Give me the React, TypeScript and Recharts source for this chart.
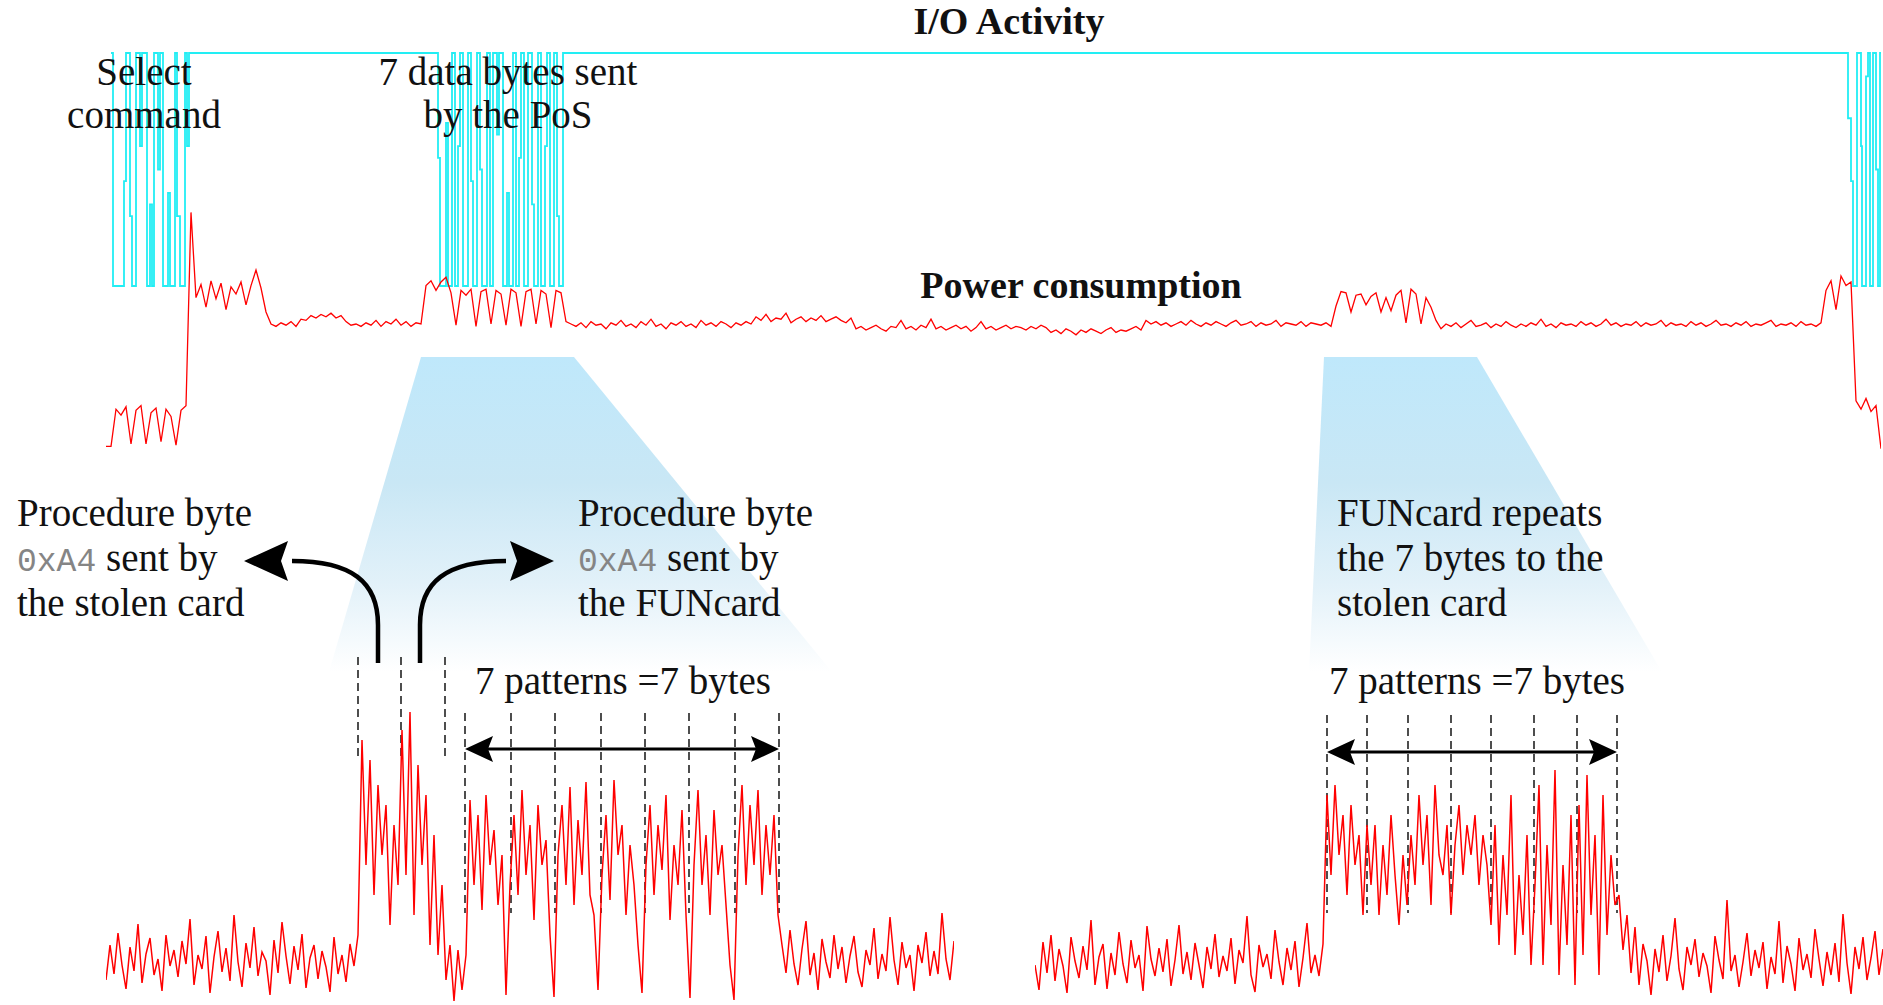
import { LineChart, Line, XAxis, YAxis, ReferenceLine } from "recharts"

// top trace: power consumption, one sample per step (arbitrary units)
const powerLow = [0.8, 0.8, 3.9, 3.4, 4.1, 1.0, 3.8, 4.2, 1.0, 3.6, 4.0, 1.2, 3.9, 3.3, 0.9, 3.8, 4.2]
const powerSelect = [20.3, 13.2, 14.3, 12.4, 14.6, 13.1, 14.4, 12.2, 14.1, 13.5, 14.5, 12.6, 14.2, 15.5, 14.0, 12.0, 11.0]
const powerIdle1 = [
  10.8, 11.1, 10.9, 11.2, 10.8, 11.4, 11.3, 11.7, 11.5, 11.8, 11.6, 11.9, 11.5, 11.7, 11.2,
  10.9, 11.0, 10.8, 11.1, 10.9, 11.3, 10.8, 11.2, 11.0, 11.4, 10.9, 11.2, 10.8, 11.1, 11.0,
]
const powerPos = [
  14.2, 14.6, 13.8, 14.5, 14.9, 13.6, 10.9, 13.8, 13.4, 13.9, 10.8, 13.7, 13.9, 11.0, 13.8,
  13.5, 10.9, 13.9, 13.6, 10.8, 13.7, 13.9, 11.0, 13.8, 13.5, 10.7, 13.8, 13.6, 11.2,
]
const powerIdle2 = [
  11.0, 10.8, 11.1, 10.7, 11.2, 10.9, 11.0, 10.6, 11.1, 10.9, 11.3, 10.8, 11.0, 10.7, 11.2, 10.9, 11.4, 10.8, 11.0, 10.6,
  11.1, 10.9, 11.2, 10.8, 11.0, 10.7, 11.3, 10.9, 11.1, 10.8, 11.2, 11.0, 10.7, 11.1, 10.9, 11.2, 11.0,
  11.6, 11.3, 11.8, 11.2, 11.5, 11.4, 11.9, 11.1, 11.4, 11.6, 11.2, 11.5, 11.3, 11.7, 11.2, 11.4, 11.6, 11.3, 11.1, 11.5,
  10.6, 10.8, 10.5, 10.7, 10.9, 10.6, 10.4, 10.8, 10.7, 11.3, 10.6, 10.8, 10.5, 10.9, 10.7, 11.4, 10.6, 10.8, 10.5, 10.7,
  10.9, 10.6, 10.8, 10.4, 10.7, 11.2, 10.6, 10.8, 10.5, 10.7, 10.9, 10.6, 10.8, 10.7, 10.5, 10.8, 10.6, 10.9, 10.7,
  10.3, 10.5, 10.2, 10.6, 10.4, 10.1, 10.5, 10.3, 10.6, 10.4, 10.2, 10.5, 10.7, 10.3, 10.5, 10.4, 10.6, 10.8, 10.5,
  11.3, 11.0, 11.2, 10.9, 11.1, 10.8, 11.0, 11.2, 10.9, 11.3, 11.0, 10.8, 11.1, 10.9, 11.2, 11.0, 10.8, 11.1, 11.3, 10.9,
  11.0, 11.2, 10.8, 11.1, 10.9, 11.0, 11.3, 10.8, 11.1, 11.0, 10.9, 11.2, 10.8, 11.1, 11.0, 10.9, 11.1, 10.8,
]
const powerBump = [12.5, 13.7, 13.6, 12.0, 13.4, 13.5, 12.6, 13.3, 13.6, 12.0, 13.2, 12.1, 13.4, 13.8, 11.1, 13.9, 13.5, 11.0, 13.2, 12.4, 11.3, 10.6]
const powerIdle3 = [
  11.0, 10.8, 11.1, 10.7, 11.0, 11.3, 10.8, 10.9, 11.1, 10.7, 11.0, 10.8, 11.2, 10.9, 10.7, 11.0, 10.8, 11.1, 10.9, 11.4,
  10.8, 11.0, 10.7, 11.1, 10.9, 11.0, 10.8, 11.2, 10.9, 11.1, 10.8, 11.0, 11.4, 10.9, 11.1, 10.8, 11.0, 10.9, 11.2, 10.8,
  11.1, 10.9, 11.0, 11.3, 10.8, 11.1, 10.9, 11.0, 10.8, 11.2, 10.9, 11.1, 10.8, 11.0, 11.3, 10.9, 11.0, 10.8, 11.1, 10.9,
  11.2, 10.8, 11.0, 10.9, 11.1, 11.3, 10.8, 11.0, 10.9, 11.1, 10.8, 11.2, 10.9, 11.0, 10.8, 11.1,
]
const powerEnd = [13.8, 14.6, 12.2, 15.0, 14.2, 14.5, 4.6, 3.9, 4.8, 3.7, 4.2, 0.6]

// I/O line: edge times (same sample units) and levels (1 = idle high)
const ioTimes = [
  1.0, 1.4, 3.6, 4.0, 4.8, 5.2, 6.0, 6.8, 7.2, 8.2, 8.8, 9.2, 9.6, 10.4, 10.8, 11.4, 12.4, 12.8, 13.8, 14.2, 14.8, 15.8, 16.2, 16.6,
  66.4, 66.8, 68.0, 68.4, 69.2, 69.8, 70.4, 70.8, 71.4, 72.4, 73.0, 73.4, 74.2, 74.8, 75.2, 76.2, 76.8, 77.4, 78.2, 78.6,
  79.4, 80.2, 80.6, 81.4, 82.0, 82.6, 83.0, 83.6, 84.4, 85.2, 85.6, 86.4, 87.0, 87.8, 88.2, 88.8, 89.6, 90.2, 90.6, 91.4,
  348.4, 349.0, 349.4, 350.2, 351.0, 351.2, 352.0, 352.4, 352.8, 353.4, 354.0, 354.4, 354.8, 355,
]
const ioLevels = [
  1, 0, 0.45, 1, 0.3, 0, 1, 0.6, 1, 0, 0.35, 0, 1, 0.5, 1, 0, 0.4, 0, 1, 0.3, 0, 1, 0.6, 1,
  0.55, 0, 0.7, 0, 1, 0, 0.6, 1, 0, 1, 0.45, 0, 1, 0.5, 0, 1, 0, 1, 0.65, 1,
  0, 0.4, 0, 1, 0, 0.55, 1, 0, 1, 0.35, 0, 1, 0, 0.6, 1, 0, 1, 0.3, 0, 1,
  0.72, 0.45, 0, 1, 0.6, 0, 0.9, 1, 0, 1, 0.5, 0, 1, 1,
]

// zoomed trace 1: PoS sends 7 bytes
const leftIdleA = [
  2.5, 6.0, 3.1, 7.2, 4.0, 1.6, 5.8, 3.4, 8.1, 2.2, 5.1, 6.7, 3.0, 4.6, 1.4, 7.0, 3.9, 5.5, 2.8, 6.4,
  4.1, 8.6, 2.0, 5.0, 3.6, 6.9, 1.2, 4.8, 7.4, 3.3, 5.7, 2.4, 9.0, 4.3, 1.8, 6.2, 3.7, 7.8, 2.9, 5.3,
  4.4, 1.0, 6.5, 3.2, 8.3, 4.9, 2.1, 5.9, 3.5, 7.1, 1.7, 4.7, 6.0, 2.6, 5.4, 3.8, 1.3, 6.8, 3.1, 5.0,
  2.3, 6.1, 3.9,
]
const leftProc = [7, 26.5, 14, 24.5, 11, 22, 15, 20, 8, 18, 12, 27.5, 13, 29.3, 9, 24, 14, 21, 6, 17, 5, 12, 2.5, 6, 0.4, 5.5, 1.5]
const leftPatterns = [
  5, 20.5, 12, 19, 9.5, 21, 14, 17.5, 10, 15, 1.0, 12,
  19, 11, 21.5, 13, 18, 8.5, 20, 14, 16.5, 7, 0.8,
  15, 20, 12, 21.8, 10, 18.5, 13, 22.3, 11, 9, 1.5,
  13, 19, 10.5, 22.5, 15, 18, 9, 16, 12, 6, 1.2,
  14, 20, 11, 18, 13.5, 21, 8.5, 16, 12, 19.5, 9,
  0.7, 14, 21.5, 12, 17, 9, 19.5, 13, 16, 10, 4, 0.5,
  15, 22, 12, 20, 14, 21.5, 11, 18, 13, 19, 9,
]
const leftIdleB = [
  6.0, 3.2, 7.5, 4.1, 2.0, 5.6, 8.4, 3.0, 5.2, 1.5, 6.6, 4.3, 2.7, 7.0, 3.6, 5.8, 2.2, 4.9, 6.9, 3.3,
  1.8, 5.5, 4.0, 7.7, 2.6, 5.1, 3.4, 8.8, 4.5, 2.0, 6.3, 3.7, 5.0, 1.4, 6.0, 4.2, 7.3, 2.9, 5.4, 3.1,
  9.2, 4.6, 2.5, 6.4,
]

// zoomed trace 2: FUNcard repeats the 7 bytes
const rightIdleA = [
  4.0, 1.5, 6.3, 3.2, 7.0, 2.4, 5.6, 3.9, 1.2, 6.8, 4.4, 2.7, 5.9, 3.5, 8.5, 2.0, 4.8, 6.1, 1.6, 5.2,
  3.0, 7.3, 4.1, 2.2, 6.5, 3.7, 5.0, 1.4, 7.9, 4.6, 2.9, 5.7, 3.3, 6.6, 1.9, 4.5, 8.0, 3.1, 5.3, 2.5,
  6.2, 4.0, 1.7, 5.8, 3.6, 7.1, 2.8, 4.9, 3.4, 6.7, 2.1, 5.5, 4.2, 8.9, 3.0, 1.3, 6.0, 3.8, 5.1, 2.6,
  7.5, 4.3, 2.0, 5.7, 3.5, 6.4, 1.8, 4.7, 8.2, 3.2, 5.0, 2.9, 6.1,
]
const rightPatterns = [
  21, 13, 22, 15, 19, 11, 20, 14, 17, 9, 18,
  12, 18, 9, 16, 11, 19, 13, 8, 15, 10,
  17, 12, 21, 14, 19, 10, 22, 15, 13, 18, 9,
  16, 20, 13, 18, 15, 19, 12, 17, 14, 8,
  18, 6, 15, 9, 21, 5, 13, 7, 17, 4,
  12, 22, 4, 16, 8, 23.5, 3, 14, 6, 19, 2,
  20, 5, 23, 9, 17, 3, 21, 7, 15, 10,
]
const rightIdleB = [
  11.0, 5.5, 9.0, 3.2, 7.8, 2.0, 6.1, 4.4, 1.0, 5.6, 3.3, 7.0, 2.4, 4.9, 8.7, 3.6, 1.5, 5.8, 4.0, 6.6,
  2.8, 5.2, 3.9, 1.2, 6.9, 4.5, 2.6, 10.5, 3.4, 5.0, 1.8, 4.3, 7.2, 2.9, 5.5, 3.7, 6.3, 1.6, 4.8, 3.1,
  8.4, 2.2, 5.9, 4.1, 1.4, 6.7, 3.5, 5.1, 2.7, 7.6, 4.6, 1.9, 5.3, 3.0, 6.2, 2.3, 9.1, 4.2, 1.1, 5.8,
  3.6, 6.8, 2.5, 4.7, 7.4, 3.0, 5.6,
]

// byte boundaries, in sample index of the zoomed traces
const byteMarks = [63, 73.75, 84.75]
const leftPatternMarks = [89.75, 101.25, 112.25, 123.75, 134.75, 145.75, 157.25, 168.25]
const rightPatternMarks = [73, 83, 93.25, 104, 114, 124.75, 135.5, 145.5]

const powerTop = [...powerLow, ...powerSelect, ...powerIdle1, ...powerPos, ...powerIdle2, ...powerBump, ...powerIdle3, ...powerEnd]
const powerRows = powerTop.map((v, i) => ({ t: i, v }))
const ioRows = ioTimes.map((t, i) => ({ t, v: ioLevels[i] }))
const leftRows = [...leftIdleA, ...leftProc, ...leftPatterns, ...leftIdleB].map((v, i) => ({ t: i, v }))
const rightRows = [...rightIdleA, ...rightPatterns, ...rightIdleB].map((v, i) => ({ t: i, v }))

const RED = "#ff0000"
const CYAN = "#22eef4"
const serif = "'Liberation Serif', 'Times New Roman', serif"
const mono = "'Liberation Mono', 'Courier New', monospace"
const m = { top: 5, right: 0, bottom: 5, left: 0 }

function Trace({ rows, x, y, w, h, xMax, yMax, color, step, width = 1.2, children }: any) {
  return (
    <div style={{ position: "absolute", left: x, top: y }}>
      <LineChart width={w} height={h} data={rows} margin={m}>
        <XAxis type="number" dataKey="t" domain={[0, xMax]} hide />
        <YAxis type="number" domain={[0, yMax]} hide />
        {children}
        <Line
          type={step ? "stepAfter" : "linear"}
          dataKey="v"
          stroke={color}
          strokeWidth={width}
          dot={false}
          isAnimationActive={false}
        />
      </LineChart>
    </div>
  )
}

function dashes(marks: number[], y1: number, y2: number) {
  return marks.map((x, i) => (
    <ReferenceLine
      key={`d-${x}-${i}`}
      segment={[{ x, y: y1 }, { x, y: y2 }]}
      stroke="#222"
      strokeWidth={1.6}
      strokeDasharray="8 5"
      ifOverflow="visible"
    />
  ))
}

function Annotations() {
  const t = { fontFamily: serif, fontSize: 39, fill: "#111" }
  const b = { fontFamily: serif, fontSize: 38, fontWeight: 700, fill: "#111" }
  return (
    <svg width={1883} height={1005} style={{ position: "absolute", left: 0, top: 0 }}>
      <text x={1009} y={34} textAnchor="middle" {...b}>I/O Activity</text>
      <text x={1081} y={298} textAnchor="middle" {...b}>Power consumption</text>

      <text x={144} y={85} textAnchor="middle" {...t}>Select</text>
      <text x={144} y={128} textAnchor="middle" {...t}>command</text>
      <text x={508} y={85} textAnchor="middle" {...t}>7 data bytes sent</text>
      <text x={508} y={128} textAnchor="middle" {...t}>by the PoS</text>

      <text x={17} y={526} {...t}>Procedure byte</text>
      <text x={17} y={571} {...t}>
        <tspan fontFamily={mono} fontSize={33} fill="#858585">0xA4</tspan>
        <tspan>{" sent by"}</tspan>
      </text>
      <text x={17} y={616} {...t}>the stolen card</text>

      <text x={578} y={526} {...t}>Procedure byte</text>
      <text x={578} y={571} {...t}>
        <tspan fontFamily={mono} fontSize={33} fill="#858585">0xA4</tspan>
        <tspan>{" sent by"}</tspan>
      </text>
      <text x={578} y={616} {...t}>the FUNcard</text>

      <text x={1337} y={526} {...t}>FUNcard repeats</text>
      <text x={1337} y={571} {...t}>the 7 bytes to the</text>
      <text x={1337} y={616} {...t}>stolen card</text>

      <text x={623} y={694} textAnchor="middle" {...t}>7 patterns =7 bytes</text>
      <text x={1477} y={694} textAnchor="middle" {...t}>7 patterns =7 bytes</text>

      {/* curved arrows to the procedure byte notes */}
      <path d="M 378 663 L 378 625 C 378 582 352 561 292 561" fill="none" stroke="#000" strokeWidth={4.5} />
      <polygon points="244,561 288,541 281,561 288,581" fill="#000" />
      <path d="M 420 663 L 420 625 C 420 582 446 561 506 561" fill="none" stroke="#000" strokeWidth={4.5} />
      <polygon points="554,561 510,541 517,561 510,581" fill="#000" />

      {/* double arrows over the 7 patterns */}
      <line x1={480} y1={749} x2={765} y2={749} stroke="#000" strokeWidth={3} />
      <polygon points="465,749 493,736 488,749 493,762" fill="#000" />
      <polygon points="779,749 751,736 756,749 751,762" fill="#000" />
      <line x1={1342} y1={752} x2={1602} y2={752} stroke="#000" strokeWidth={3} />
      <polygon points="1327,752 1355,739 1350,752 1355,765" fill="#000" />
      <polygon points="1617,752 1589,739 1594,752 1589,765" fill="#000" />
    </svg>
  )
}

export default function App() {
  return (
    <div style={{ position: "absolute", left: 0, top: 0, width: 1883, height: 1005, overflow: "hidden", background: "#fff" }}>
      <svg width={1883} height={1005} style={{ position: "absolute", left: 0, top: 0 }}>
        <defs>
          <linearGradient id="zoomFade" x1="0" y1="357" x2="0" y2="672" gradientUnits="userSpaceOnUse">
            <stop offset="0" stopColor="#bfe8fb" />
            <stop offset="0.4" stopColor="#c9e7f5" />
            <stop offset="0.72" stopColor="#e2f1f9" />
            <stop offset="1" stopColor="#ffffff" />
          </linearGradient>
        </defs>
        <polygon points="421,357 574,357 832,672 329,672" fill="url(#zoomFade)" />
        <polygon points="1324,357 1477,357 1662,672 1309,672" fill="url(#zoomFade)" />
      </svg>

      <Trace rows={ioRows} x={106} y={48} w={1775} h={243} xMax={355} yMax={1} color={CYAN} step width={1.8} />
      <Trace rows={powerRows} x={106} y={199} w={1775} h={262} xMax={355} yMax={21} color={RED} width={1.3} />

      <Trace rows={leftRows} x={106} y={650} w={848} h={360} xMax={212} yMax={35} color={RED} width={1.5}>
        {dashes(byteMarks, 34.8, 24.7)}
        {dashes(leftPatternMarks, 29.2, 9.2)}
      </Trace>
      <Trace rows={rightRows} x={1035} y={650} w={848} h={360} xMax={212} yMax={35} color={RED} width={1.5}>
        {dashes(rightPatternMarks, 29.0, 9.2)}
      </Trace>

      <Annotations />
    </div>
  )
}
